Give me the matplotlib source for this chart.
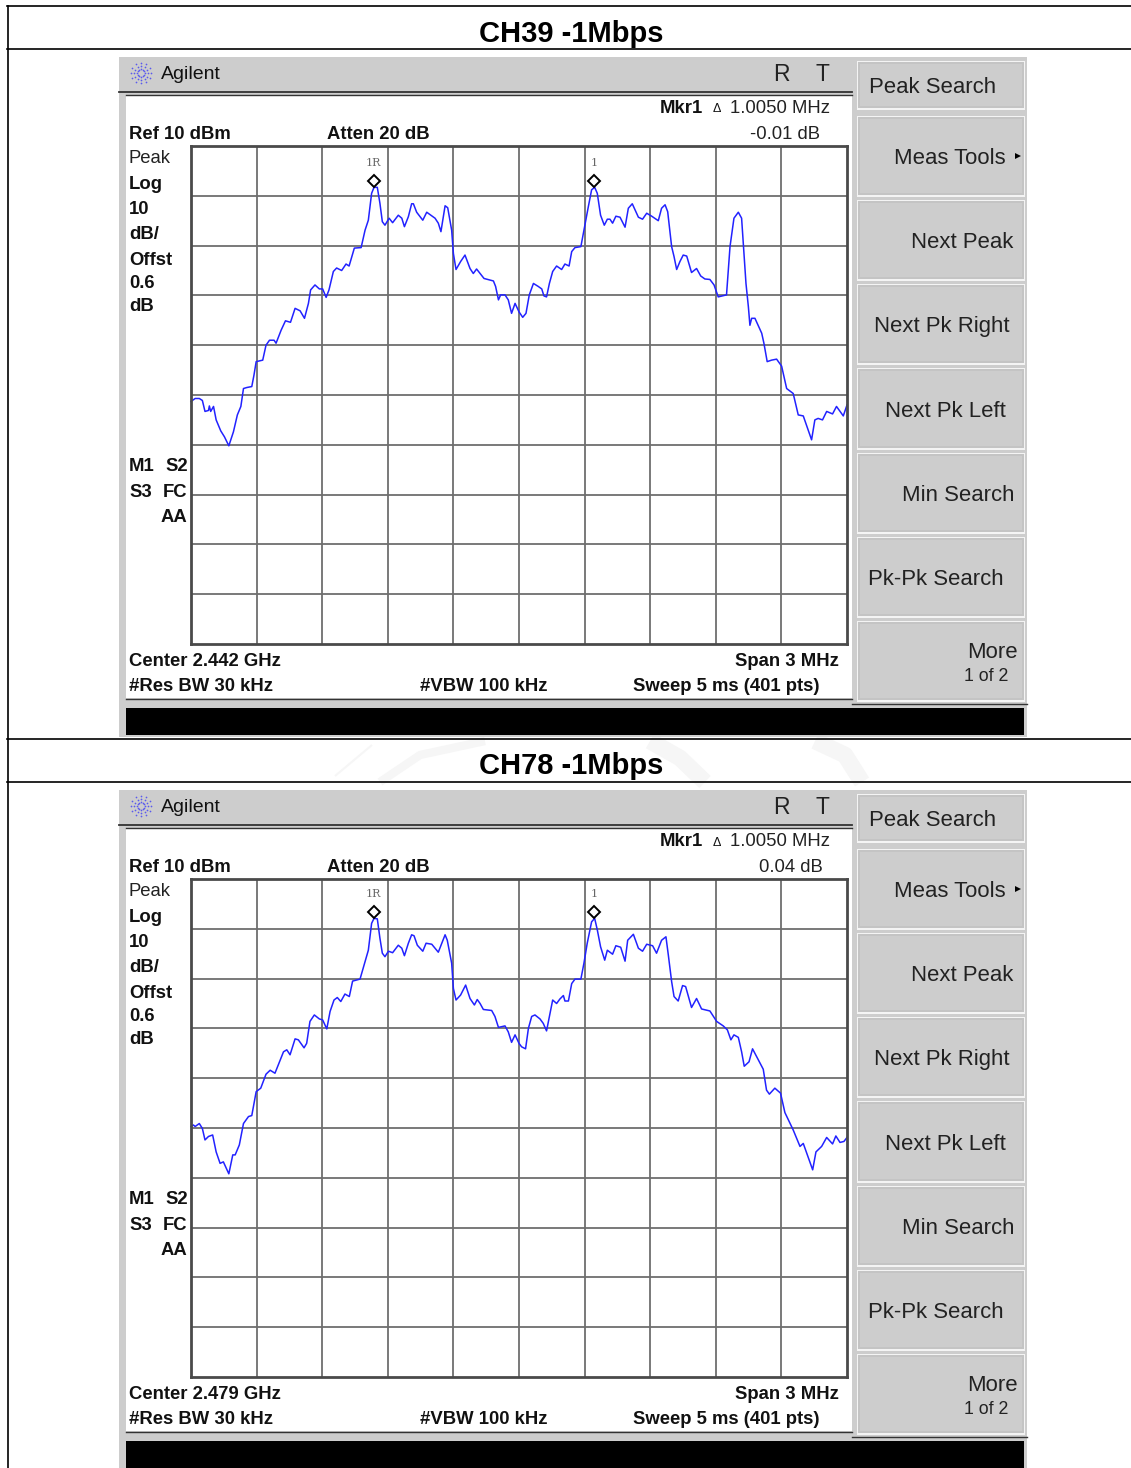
import numpy as np
import matplotlib
matplotlib.use("Agg")
import matplotlib.pyplot as plt
from matplotlib.patches import Rectangle

# trace readings, frequency offset from center in MHz and level in dB
freq_ch39 = [-1.5,-1.481,-1.462,-1.448,-1.436,-1.420,-1.416,-1.410,-1.397,-1.385,-1.364,-1.347,-1.327,-1.306,-1.288,-1.272,-1.260,-1.245,-1.222,-1.212,-1.202,-1.172,-1.157,-1.141,-1.120,-1.111,-1.088,-1.068,-1.045,-1.024,-1.001,-0.981,-0.963,-0.953,-0.933,-0.913,-0.898,-0.882,-0.869,-0.849,-0.834,-0.811,-0.791,-0.777,-0.753,-0.722,-0.704,-0.689,-0.674,-0.663,-0.648,-0.636,-0.625,-0.613,-0.594,-0.578,-0.552,-0.536,-0.524,-0.506,-0.491,-0.483,-0.468,-0.440,-0.422,-0.384,-0.369,-0.357,-0.338,-0.326,-0.308,-0.300,-0.288,-0.267,-0.247,-0.224,-0.209,-0.194,-0.178,-0.160,-0.117,-0.107,-0.094,-0.084,-0.064,-0.049,-0.034,-0.018,0.0,
             0.017,0.032,0.047,0.066,0.088,0.104,0.114,0.126,0.139,0.154,0.172,0.195,0.210,0.229,0.241,0.256,0.283,0.297,0.317,0.332,0.346,0.358,0.373,0.390,0.404,0.416,0.428,0.443,0.462,0.485,0.500,0.518,0.546,0.565,0.584,0.607,0.637,0.652,0.668,0.680,0.698,0.709,0.721,0.736,0.751,0.767,0.789,0.812,0.831,0.850,0.873,0.892,0.911,0.949,0.965,0.983,1.003,1.018,1.029,1.038,1.049,1.056,1.064,1.079,1.110,1.120,1.135,1.155,1.178,1.201,1.224,1.254,1.277,1.300,1.338,1.353,1.368,1.388,1.407,1.434,1.452,1.483,1.500]
level_ch39 = [-41.3,-40.7,-40.7,-41.1,-43.3,-43.1,-42.2,-43.3,-42.3,-45.0,-47.2,-48.4,-50.2,-47.4,-44.0,-42.3,-38.7,-38.5,-38.3,-36.0,-33.3,-33.0,-30.0,-29.0,-29.0,-29.6,-27.0,-25.1,-25.4,-22.6,-23.1,-24.6,-21.6,-18.9,-17.9,-18.7,-18.7,-20.4,-18.9,-15.2,-14.5,-15.0,-13.7,-14.1,-10.5,-10.4,-6.9,-4.9,0.5,1.7,1.7,-1.5,-5.2,-5.9,-4.5,-5.4,-3.9,-4.5,-6.2,-4.2,-1.6,-1.6,-3.3,-4.9,-3.3,-4.5,-5.5,-7.2,-2.0,-2.4,-6.9,-11.6,-14.8,-13.2,-11.9,-14.6,-15.6,-14.7,-15.6,-16.6,-17.1,-18.2,-20.9,-19.9,-19.9,-20.9,-23.6,-21.6,-23.3,
              -24.4,-23.6,-19.9,-17.6,-18.2,-18.7,-20.1,-20.3,-17.6,-15.2,-14.1,-14.8,-13.7,-14.1,-11.2,-10.4,-10.2,-6.9,-2.2,1.2,1.7,0.5,-3.9,-5.9,-4.7,-4.7,-5.5,-4.1,-4.3,-6.3,-2.5,-1.6,-4.3,-4.7,-3.5,-4.1,-5.0,-2.5,-1.8,-3.2,-10.2,-12.2,-14.8,-13.2,-11.9,-12.1,-15.4,-14.6,-16.1,-16.7,-16.8,-17.9,-20.3,-19.9,-10.2,-4.5,-3.3,-4.5,-11.6,-17.6,-22.3,-26.0,-24.6,-24.6,-27.6,-29.6,-33.3,-33.0,-32.8,-34.2,-38.7,-39.7,-44.0,-44.2,-49.0,-45.0,-44.7,-45.0,-43.3,-43.8,-42.3,-44.2,-42.0]

freq_ch78 = [-1.5,-1.489,-1.481,-1.462,-1.448,-1.436,-1.420,-1.401,-1.385,-1.367,-1.352,-1.327,-1.309,-1.298,-1.279,-1.260,-1.237,-1.222,-1.202,-1.181,-1.157,-1.138,-1.116,-1.077,-1.062,-1.047,-1.024,-1.009,-0.983,-0.971,-0.956,-0.936,-0.913,-0.898,-0.879,-0.864,-0.846,-0.831,-0.815,-0.796,-0.776,-0.761,-0.727,-0.704,-0.689,-0.674,-0.663,-0.648,-0.636,-0.625,-0.613,-0.597,-0.578,-0.552,-0.536,-0.524,-0.506,-0.491,-0.480,-0.465,-0.440,-0.425,-0.399,-0.369,-0.338,-0.328,-0.308,-0.300,-0.288,-0.267,-0.244,-0.224,-0.204,-0.191,-0.178,-0.163,-0.125,-0.110,-0.094,-0.064,-0.049,-0.034,-0.018,0.0,
             0.012,0.030,0.043,0.058,0.073,0.096,0.111,0.126,0.139,0.154,0.172,0.187,0.203,0.210,0.226,0.241,0.256,0.283,0.297,0.312,0.332,0.346,0.358,0.373,0.392,0.404,0.428,0.443,0.465,0.485,0.497,0.523,0.546,0.565,0.584,0.611,0.629,0.652,0.672,0.683,0.698,0.709,0.728,0.748,0.762,0.789,0.812,0.835,0.873,0.904,0.934,0.953,0.969,0.983,1.003,1.018,1.030,1.052,1.068,1.094,1.117,1.132,1.145,1.170,1.196,1.216,1.254,1.285,1.300,1.343,1.358,1.384,1.407,1.434,1.449,1.468,1.486,1.500]
level_ch78 = [-39.7,-39.4,-39.7,-39.1,-40.1,-42.4,-41.7,-41.4,-44.8,-47.1,-46.8,-49.2,-45.4,-45.4,-43.4,-39.1,-37.7,-37.5,-32.7,-32.0,-29.2,-28.4,-29.0,-24.7,-24.3,-25.3,-22.1,-22.3,-23.9,-23.0,-18.6,-17.3,-18.1,-18.3,-20.1,-16.6,-14.3,-13.8,-14.6,-13.1,-13.6,-10.5,-10.1,-6.6,-4.3,1.1,2.1,2.0,-1.9,-4.9,-5.6,-4.5,-4.8,-3.3,-3.9,-5.4,-2.9,-1.2,-1.4,-3.3,-4.5,-2.9,-3.1,-4.7,-1.2,-2.3,-6.9,-12.0,-14.3,-13.3,-11.3,-14.0,-15.3,-14.2,-15.0,-16.2,-16.4,-17.6,-19.8,-19.5,-20.7,-22.8,-21.3,-23.0,
              -23.7,-24.1,-20.0,-17.6,-17.3,-18.1,-19.0,-20.5,-17.6,-14.3,-15.0,-14.1,-13.4,-14.5,-14.5,-11.0,-10.1,-10.1,-6.9,-2.9,1.4,2.1,-0.2,-3.6,-6.3,-4.3,-5.1,-3.4,-3.7,-6.5,-2.3,-1.1,-3.9,-4.5,-3.1,-3.4,-4.9,-2.3,-1.6,-5.3,-10.6,-13.6,-14.5,-11.4,-11.6,-15.8,-14.0,-16.1,-16.5,-18.6,-19.5,-20.3,-22.3,-21.3,-21.8,-24.7,-27.6,-26.7,-24.1,-26.3,-28.2,-32.4,-33.2,-32.0,-33.0,-36.9,-40.4,-43.7,-43.1,-48.4,-44.8,-43.7,-41.9,-43.2,-41.6,-42.9,-42.7,-41.9]

marker_freq = [-0.665, 0.345]
marker_labels = ["1R", "1"]
marker_level_ch39 = 3.0
marker_level_ch78 = 3.4

softkeys = ["Peak Search", "Meas Tools", "Next Peak", "Next Pk Right", "Next Pk Left", "Min Search", "Pk-Pk Search"]

W, H = 1131, 1468
FONT = "Liberation Sans"
GRAY = "#cdcdcd"

fig = plt.figure(figsize=(W / 100, H / 100), dpi=100, facecolor="white")

# whole page in pixel coordinates, for the table and the instrument frame
page = fig.add_axes([0, 0, 1, 1])
page.set_xlim(0, W)
page.set_ylim(H, 0)
page.axis("off")


def box(x0, y0, x1, y1, color, **kw):
    page.add_patch(Rectangle((x0, y0), x1 - x0, y1 - y0, facecolor=color, edgecolor="none", **kw))


def label(x, y, s, size=13.3, bold=True, ha="left", color="#111111"):
    # text sits a bit low on the instrument screen
    page.text(x, y + 2.5, s, fontsize=size, family=FONT, fontweight="bold" if bold else "normal",
              ha=ha, va="center", color=color)


def draw_panel(dy, title, center, delta, delta_x, freq, level, marker_level):
    label(571, dy + 31, title, size=21, ha="center", color="black")

    # frame
    box(119, dy + 57, 1027, dy + 737, GRAY)
    box(126, dy + 95, 852, dy + 698, "white")
    page.plot([119, 852], [dy + 91.5, dy + 91.5], color="#333333", lw=1.3)
    page.plot([126, 852], [dy + 94.5, dy + 94.5], color="#333333", lw=1)
    page.plot([126, 852], [dy + 698.5, dy + 698.5], color="#333333", lw=1)
    page.plot([852, 1027], [dy + 703.5, dy + 703.5], color="#333333", lw=1)
    box(126, dy + 708, 1024, dy + 735, "black")

    # agilent spark
    for ang in np.arange(0, 360, 30):
        r = np.array([4, 7, 10])
        page.scatter(141 + r * np.cos(np.radians(ang)), dy + 73 + r * np.sin(np.radians(ang)),
                     s=1.5, color="#5a5aee", linewidths=0)
    label(161, dy + 72, "Agilent", size=14, bold=False)
    label(773, dy + 72, "R", size=16.5, bold=False, color="#222222")
    label(815, dy + 72, "T", size=16.5, bold=False, color="#222222")

    # softkeys
    tops = [62, 117, 201, 285, 369, 454, 538, 622]
    bottoms = [108, 195, 279, 363, 448, 532, 616, 700]
    for t, b in zip(tops, bottoms):
        box(856.5, dy + t - 1.5, 1025, dy + b + 1.5, "#f4f4f4")
        box(858, dy + t, 1024, dy + b, "#c4c4c4")
        box(860, dy + t + 2, 1022, dy + b - 2, GRAY)
    key_x = [869, 894, 911, 874, 885, 902, 868]
    key_y = [85, 156, 240, 324, 409, 493, 577]
    for s, x, y in zip(softkeys, key_x, key_y):
        label(x, dy + y, s, size=15.9, bold=False, color="#222222")
    label(967, dy + 650, "More", size=15.9, bold=False, color="#222222")
    label(964, dy + 674, "1 of 2", size=12.8, bold=False, color="#222222")
    page.plot([1018], [dy + 156], marker=">", ms=4, color="black", mew=0)

    # instrument annotations
    label(129, dy + 132, "Ref 10 dBm")
    label(327, dy + 132, "Atten 20 dB")
    label(660, dy + 106, "Mkr1")
    label(712.5, dy + 107, "\u0394", size=9, bold=False)
    label(730, dy + 106, "1.0050 MHz", size=13.3, bold=False, color="#222222")
    label(delta_x, dy + 132, delta, size=13.3, bold=False, color="#222222")
    label(129, dy + 156, "Peak", size=13.3, bold=False, color="#222222")
    for s, y in zip(["Log", "10", "dB/", "Offst", "0.6", "dB"], [182, 207, 232, 258, 281, 304]):
        label(129, dy + y, s)
    label(129, dy + 464, "M1")
    label(165, dy + 464, "S2")
    label(129, dy + 490, "S3")
    label(163, dy + 490, "FC")
    label(161, dy + 515, "AA")
    label(129, dy + 659, center)
    label(129, dy + 684, "#Res BW 30 kHz")
    label(420, dy + 684, "#VBW 100 kHz")
    label(735, dy + 659, "Span 3 MHz")
    label(633, dy + 684, "Sweep 5 ms (401 pts)")

    # trace axes
    ax = fig.add_axes([191 / W, 1 - (dy + 644) / H, 656 / W, 498 / H])
    ax.set_xlim(-1.5, 1.5)
    ax.set_ylim(-90, 10)
    ax.set_xticks(np.arange(-1.2, 1.3, 0.3))
    ax.set_yticks(np.arange(-80, 10, 10))
    ax.tick_params(length=0, labelbottom=False, labelleft=False)
    ax.grid(True, color="#6e6e6e", lw=1.3)
    ax.set_axisbelow(True)
    for sp in ax.spines.values():
        sp.set_color("#4a4a4a")
        sp.set_linewidth(2)
    ax.plot(freq, level, color="#2222ff", lw=1.1, clip_on=False)
    ax.plot(marker_freq, [marker_level] * 2, ls="none", marker="D", ms=6.5, mfc="white",
            mec="black", mew=1.4)
    for f, s in zip(marker_freq, marker_labels):
        ax.annotate(s, (f, marker_level), xytext=(0, 13), textcoords="offset points", ha="center",
                    va="center", fontsize=8, family="DejaVu Serif", color="#666666")


draw_panel(0, "CH39 -1Mbps", "Center 2.442 GHz", "-0.01 dB", 750, freq_ch39, level_ch39, marker_level_ch39)

# faint watermark in the second title row
for xs, ys, w in [([335, 372], [776, 745], 1.5), ([380, 420, 485], [782, 755, 741], 6),
                  ([650, 680, 705], [741, 758, 782], 12), ([815, 845, 862], [741, 755, 782], 12)]:
    page.plot(xs, ys, color="#f6f6f6", lw=w, solid_capstyle="butt", zorder=0)

draw_panel(733, "CH78 -1Mbps", "Center 2.479 GHz", "0.04 dB", 759, freq_ch78, level_ch78, marker_level_ch78)

# table rules
for y in [6, 48.5, 739, 782]:
    page.plot([7, W], [y, y], color="black", lw=1.2, zorder=5)
page.plot([7.5, 7.5], [6, H], color="black", lw=1.2, zorder=5)

fig.savefig("out.png", dpi=100)
